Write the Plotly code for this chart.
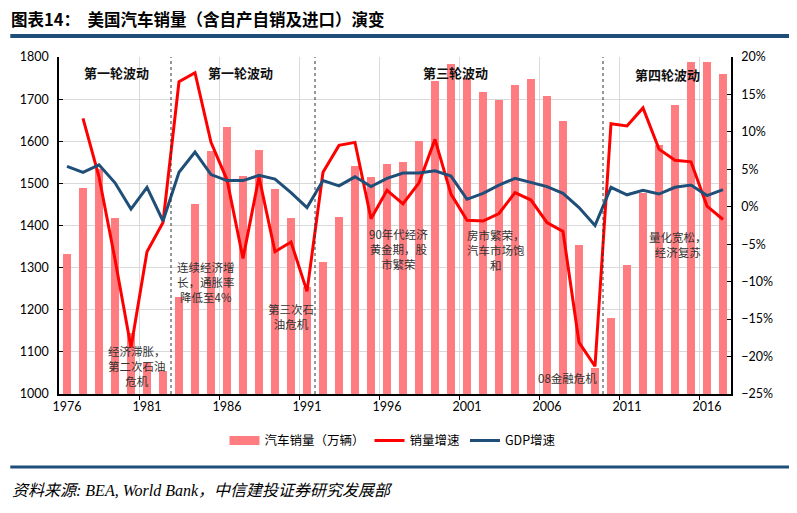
import plotly.graph_objects as go

years = list(range(1976, 2018))
sales = [1332, 1488, 1535, 1417, 1145, 1075, 1055, 1231, 1450, 1576,
         1633, 1518, 1580, 1486, 1417, 1255, 1313, 1421, 1542, 1515,
         1546, 1550, 1601, 1744, 1784, 1750, 1716, 1698, 1734, 1748,
         1708, 1649, 1354, 1061, 1181, 1306, 1478, 1590, 1687, 1787,
         1787, 1760]
growth_years = list(range(1977, 2018))
sales_growth = [11.8, 4.0, -7.0, -18.8, -6.0, -2.1, 16.7, 17.9, 8.6, 3.6,
                -6.9, 4.0, -6.0, -4.7, -11.3, 4.6, 8.2, 8.6, -1.6, 2.2,
                0.4, 3.2, 9.0, 1.7, -1.8, -1.9, -0.9, 1.9, 0.9, -2.1,
                -3.3, -18.1, -21.3, 11.1, 10.8, 13.2, 7.7, 6.2, 6.0, 0.1,
                -1.7]
gdp_growth = [5.4, 4.6, 5.6, 3.2, -0.3, 2.6, -1.9, 4.6, 7.3, 4.3,
              3.5, 3.5, 4.2, 3.7, 1.9, -0.1, 3.5, 2.8, 4.0, 2.7,
              3.8, 4.5, 4.5, 4.8, 4.1, 1.0, 1.8, 2.9, 3.8, 3.3,
              2.7, 1.8, -0.1, -2.5, 2.6, 1.6, 2.2, 1.7, 2.6, 2.9,
              1.5, 2.3]
tick_years = [1976, 1981, 1986, 1991, 1996, 2001, 2006, 2011, 2016]
grid_years = [1980.5, 1985.5, 1990.5, 1995.5, 2000.5, 2005.5, 2010.5, 2015.5]
cycle_boundaries = [1982.5, 1991.5, 2009.5]

cycle_labels = [("第一轮波动", 1979.1, 1763), ("第一轮波动", 1986.85, 1763),
                ("第三轮波动", 2000.3, 1763), ("第四轮波动", 2013.5, 1758)]
notes = [("经济滞胀，<br>第二次石油<br>危机", 1980.35, 1066),
         ("连续经济增<br>长，通胀率<br>降低至4%", 1984.7, 1266),
         ("第三次石<br>油危机", 1990.0, 1183),
         ("90年代经济<br>黄金期，股<br>市繁荣", 1996.7, 1344),
         ("房市繁荣，<br>汽车市场饱<br>和", 2002.8, 1342),
         ("08金融危机", 2007.3, 1038),
         ("量化宽松，<br>经济复苏", 2014.2, 1354)]

FONT = "Lato, 'Noto Sans CJK SC', sans-serif"
CJK = "'Noto Sans CJK SC', sans-serif"
BAR_COLOR = "#FF7C80"

fig = go.Figure()
fig.add_trace(go.Bar(x=years, y=sales, name="汽车销量（万辆）",
                     marker=dict(color=BAR_COLOR, line=dict(width=0)),
                     width=0.45, yaxis="y", showlegend=False))
# legend stand-in for the bar series (wide rectangular swatch)
fig.add_trace(go.Scatter(x=[None], y=[None], name="汽车销量（万辆）", mode="lines",
                         line=dict(color=BAR_COLOR, width=9), yaxis="y"))
fig.add_trace(go.Scatter(x=growth_years, y=[v / 100 for v in sales_growth],
                         name="销量增速", mode="lines",
                         line=dict(color="#FF0000", width=3), yaxis="y2"))
fig.add_trace(go.Scatter(x=years, y=[v / 100 for v in gdp_growth],
                         name="GDP增速", mode="lines",
                         line=dict(color="#1F4E79", width=3), yaxis="y2"))

for xb in cycle_boundaries:
    fig.add_shape(type="line", xref="x", yref="paper", x0=xb, x1=xb, y0=0, y1=1,
                  line=dict(color="#333333", width=1, dash="dot"))

for txt, xv, yv in cycle_labels:
    fig.add_annotation(x=xv, y=yv, xref="x", yref="y", text="<b>" + txt + "</b>",
                       showarrow=False,
                       font=dict(family=CJK, size=13, color="#111111"))
for txt, xv, yv in notes:
    fig.add_annotation(x=xv, y=yv, xref="x", yref="y", text=txt, showarrow=False,
                       align="center",
                       font=dict(family=CJK, size=11.5, color="#333333"))

# title, rules and source
fig.add_annotation(x=-0.0725, y=1.113, xref="paper", yref="paper", xanchor="left",
                   yanchor="middle", showarrow=False, borderpad=0,
                   text="<b>图表14：  美国汽车销量（含自产自销及进口）演变</b>",
                   font=dict(family=CJK, size=16.5, color="#000000"))
fig.add_shape(type="line", xref="paper", yref="paper", x0=-0.0725, x1=1.09,
              y0=1.0625, y1=1.0625, line=dict(color="#1F4E79", width=4))
fig.add_shape(type="line", xref="paper", yref="paper", x0=-0.0725, x1=1.09,
              y0=-0.2166, y1=-0.2166, line=dict(color="#1F4E79", width=3))
fig.add_annotation(x=-0.0725, y=-0.285, xref="paper", yref="paper", xanchor="left",
                   yanchor="middle", showarrow=False,
                   text="<i>资料来源: BEA, World Bank，中信建投证券研究发展部</i>",
                   font=dict(family="'Liberation Serif', 'Noto Sans CJK SC', serif",
                             size=16, color="#000000"))

fig.update_layout(
    width=789, height=505,
    margin=dict(l=46, r=66, t=49, b=119),
    paper_bgcolor="white", plot_bgcolor="white",
    font=dict(family=FONT, size=12, color="#000000"),
    bargap=0,
    showlegend=True,
    legend=dict(orientation="h", x=0.497, y=-0.139, xanchor="center", yanchor="middle",
                font=dict(family=CJK, size=12.5, color="#000000"),
                itemwidth=30, tracegroupgap=0, bgcolor="rgba(0,0,0,0)"),
    xaxis=dict(range=[1975.5, 2017.5], tickmode="array", tickvals=tick_years,
               ticktext=[str(y) for y in tick_years], showgrid=False, ticks="",
               showline=True, linecolor="#000000", linewidth=1.5, zeroline=False,
               tickfont=dict(family=FONT, size=12.5),
               minor=dict(tickmode="array", tickvals=grid_years, showgrid=True,
                          gridcolor="#D9D9D9", gridwidth=1, ticks="outside",
                          ticklen=4, tickcolor="#000000")),
    yaxis=dict(range=[1000, 1800], dtick=100, tick0=1000, showgrid=True,
               gridcolor="#D9D9D9", gridwidth=1, showline=True, linecolor="#000000",
               linewidth=1.5, ticks="inside", ticklen=4, tickcolor="#000000",
               zeroline=False, tickfont=dict(family=FONT, size=12.5),
               ticklabelstandoff=6),
    yaxis2=dict(range=[-0.25, 0.20], dtick=0.05, tick0=-0.25, tickformat=".0%",
                overlaying="y", side="right", showgrid=False, showline=True,
                linecolor="#000000", linewidth=1.5, ticks="inside", ticklen=4,
                tickcolor="#000000", zeroline=False,
                tickfont=dict(family=FONT, size=12.5), ticklabelstandoff=6),
)

fig.write_html("out.html")
